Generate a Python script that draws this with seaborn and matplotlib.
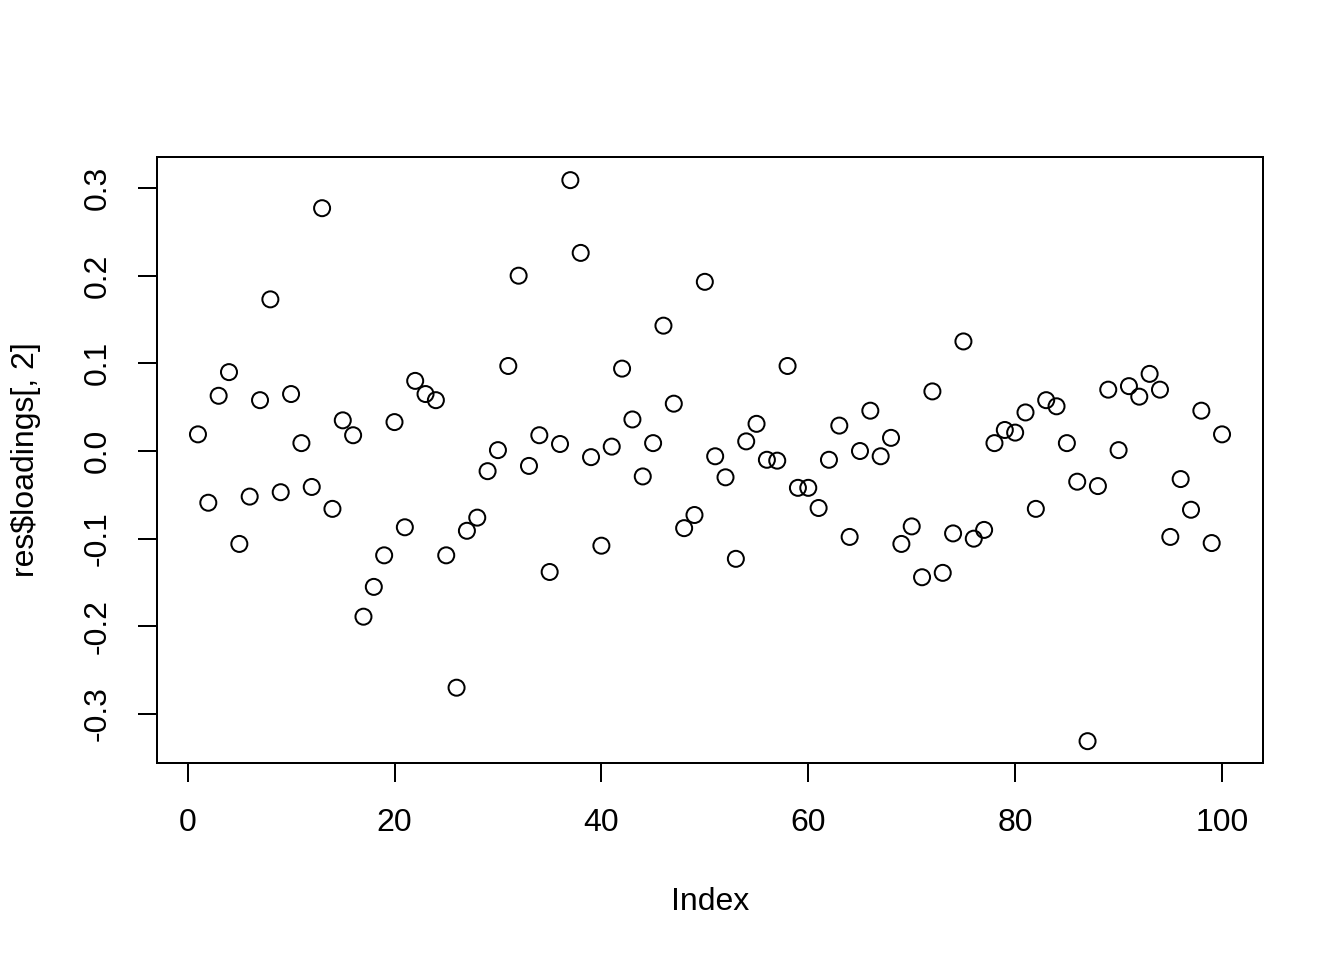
import matplotlib
matplotlib.use("Agg")
import matplotlib.pyplot as plt
import seaborn as sns
import numpy as np
import pandas as pd

index = list(range(1, 101))
loadings2 = [
    0.019, -0.059, 0.063, 0.090, -0.106, -0.052, 0.058, 0.173, -0.047, 0.065,
    0.009, -0.041, 0.277, -0.066, 0.035, 0.018, -0.189, -0.155, -0.119, 0.033,
    -0.087, 0.080, 0.065, 0.058, -0.119, -0.270, -0.091, -0.076, -0.023, 0.001,
    0.097, 0.200, -0.017, 0.018, -0.138, 0.008, 0.309, 0.226, -0.007, -0.108,
    0.005, 0.094, 0.036, -0.029, 0.009, 0.143, 0.054, -0.088, -0.073, 0.193,
    -0.006, -0.030, -0.123, 0.011, 0.031, -0.010, -0.011, 0.097, -0.042, -0.042,
    -0.065, -0.010, 0.029, -0.098, 0.000, 0.046, -0.006, 0.015, -0.106, -0.086,
    -0.144, 0.068, -0.139, -0.094, 0.125, -0.100, -0.090, 0.009, 0.024, 0.021,
    0.044, -0.066, 0.058, 0.051, 0.009, -0.035, -0.331, -0.040, 0.070, 0.001,
    0.074, 0.062, 0.088, 0.070, -0.098, -0.032, -0.067, 0.046, -0.105, 0.019,
]
xticks = [0, 20, 40, 60, 80, 100]
yticks = [-0.3, -0.2, -0.1, 0.0, 0.1, 0.2, 0.3]
ytick_labels = ["-0.3", "-0.2", "-0.1", "0.0", "0.1", "0.2", "0.3"]

df = pd.DataFrame({"Index": index, "val": loadings2})

sns.set_theme(style="ticks")
plt.rcParams["font.family"] = ["Liberation Sans", "DejaVu Sans"]

fig = plt.figure(figsize=(7, 5), dpi=192)
ax = fig.add_axes([157/1344, 1-763/960, (1263-157)/1344, (763-157)/960])

sns.scatterplot(data=df, x="Index", y="val", ax=ax, marker="o", s=36,
                facecolor="none", edgecolor="black", linewidth=0.75, legend=False)

ax.set_xlim(-2.96, 103.96)
ax.set_ylim(-0.3559, 0.3354)
ax.set_xticks(xticks)
ax.set_xticklabels([str(t) for t in xticks])
ax.set_yticks(yticks)
ax.set_yticklabels(ytick_labels, rotation=90, va="center")
for s in ax.spines.values():
    s.set_visible(True)
    s.set_color("black")
    s.set_linewidth(0.75)
ax.tick_params(axis="both", length=7.2, width=0.75, color="black", labelsize=12,
               labelcolor="black", pad=9.5, direction="out")
ax.set_xlabel("Index", fontsize=12, color="black", labelpad=18.5)
ax.set_ylabel("res$loadings[, 2]", fontsize=12, color="black", labelpad=15.5)

fig.savefig("out.png", dpi=192, facecolor="white")
